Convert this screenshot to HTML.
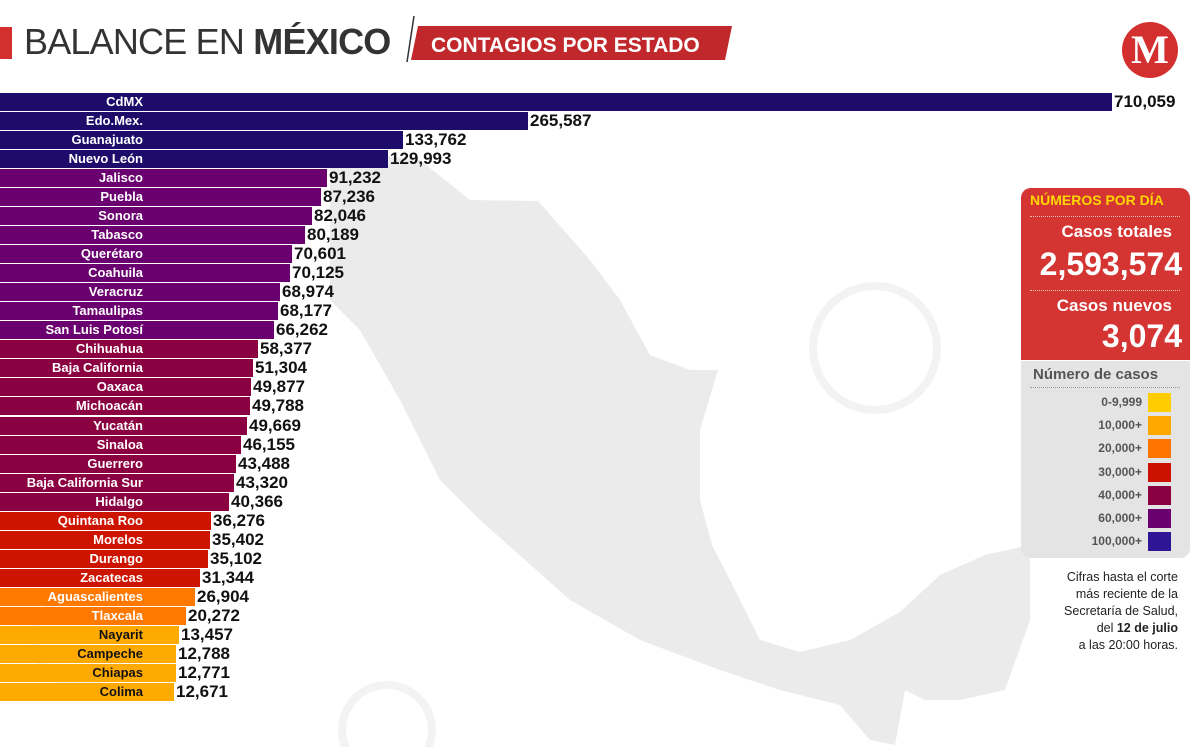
<!DOCTYPE html>
<html><head><meta charset="utf-8"><style>
body{margin:0;width:1200px;height:747px;background:#fff;position:relative;overflow:hidden;font-family:"Liberation Sans",sans-serif}
.row{position:absolute;left:0;height:18px}
.bar{position:absolute;left:0;top:0;height:18px}
.lab{position:absolute;right:0;width:143px;left:0;text-align:right;color:#fff;font-weight:bold;font-size:13px;line-height:18px}
.val{position:absolute;top:-1px;font-weight:bold;font-size:17px;line-height:20px;color:#111}
.leg{position:absolute;right:20px;font-weight:bold;font-size:12px;color:#555;text-align:right}
.sw{position:absolute;left:1148px;width:23px;height:19px}
</style></head><body>
<svg width="1200" height="747" style="position:absolute;left:0;top:0">
<polygon fill="#ebebeb" points="330,150 420,160 470,200 538,201 590,260 620,300 650,355 690,370 718,370 700,430 700,500 712,545 735,590 760,640 800,652 850,640 900,612 940,575 985,555 1030,545 1030,620 1005,690 960,700 925,700 905,690 895,745 870,740 840,705 780,690 720,670 640,640 570,600 480,520 440,480 400,400 360,330 330,300"/>
<g fill="none" stroke="#f3f3f3" stroke-width="8"><circle cx="875" cy="348" r="62"/><circle cx="387" cy="730" r="45"/><circle cx="80" cy="640" r="45"/></g>
</svg>
<div style="position:absolute;left:0;top:27px;width:12px;height:32px;background:#d32f2f"></div>
<div style="position:absolute;left:24px;top:21px;font-size:36px;color:#333;letter-spacing:-0.8px">BALANCE EN <b>MÉXICO</b></div>
<svg width="340" height="50" style="position:absolute;left:405px;top:14px"><line x1="9" y1="2" x2="2" y2="48" stroke="#333" stroke-width="1.5"/><polygon points="13,12 327,12 320,46 6,46" fill="#c0282b"/><text x="26" y="38" fill="#fff" font-weight="bold" font-size="21" font-family="Liberation Sans">CONTAGIOS POR ESTADO</text></svg>
<div style="position:absolute;left:1122px;top:22px;width:56px;height:56px;border-radius:50%;background:#d32f2f;color:#fff;font:bold 40px 'Liberation Serif',serif;text-align:center;line-height:56px">M</div>
<div id="bars"></div>
<div style="position:absolute;left:1021px;top:188px;width:169px;height:172px;background:#d43533;border-radius:10px 10px 0 0"></div>
<div style="position:absolute;left:1030px;top:192px;color:#ffd700;font-weight:bold;font-size:14px">NÚMEROS POR DÍA</div>
<div style="position:absolute;left:1030px;top:216px;width:150px;border-top:1px dotted #fbb"></div>
<div style="position:absolute;right:28px;top:222px;color:#fff;font-weight:bold;font-size:17px">Casos totales</div>
<div style="position:absolute;right:18px;top:246px;color:#fff;font-weight:bold;font-size:32px">2,593,574</div>
<div style="position:absolute;left:1030px;top:290px;width:150px;border-top:1px dotted #fbb"></div>
<div style="position:absolute;right:28px;top:296px;color:#fff;font-weight:bold;font-size:17px">Casos nuevos</div>
<div style="position:absolute;right:18px;top:318px;color:#fff;font-weight:bold;font-size:32px">3,074</div>
<div style="position:absolute;left:1021px;top:361px;width:169px;height:197px;background:#e4e4e4;border-radius:0 0 10px 10px"></div>
<div style="position:absolute;left:1033px;top:366px;color:#555;font-weight:bold;font-size:15px">Número de casos</div>
<div style="position:absolute;left:1030px;top:387px;width:150px;border-top:1px dotted #999"></div>
<div id="leg"></div>
<div style="position:absolute;right:22px;top:569px;width:160px;text-align:right;font-size:12.5px;line-height:17px;color:#222">Cifras hasta el corte<br>más reciente de la<br>Secretaría de Salud,<br>del <b>12 de julio</b><br>a las 20:00 horas.</div>
<script>
var d=[["CdMX","710,059",1112,0],["Edo.Mex.","265,587",528,0],["Guanajuato","133,762",403,0],["Nuevo León","129,993",388,0],["Jalisco","91,232",327,1],["Puebla","87,236",321,1],["Sonora","82,046",312,1],["Tabasco","80,189",305,1],["Querétaro","70,601",292,1],["Coahuila","70,125",290,1],["Veracruz","68,974",280,1],["Tamaulipas","68,177",278,1],["San Luis Potosí","66,262",274,1],["Chihuahua","58,377",258,2],["Baja California","51,304",253,2],["Oaxaca","49,877",251,2],["Michoacán","49,788",250,2],["Yucatán","49,669",247,2],["Sinaloa","46,155",241,2],["Guerrero","43,488",236,2],["Baja California Sur","43,320",234,2],["Hidalgo","40,366",229,2],["Quintana Roo","36,276",211,3],["Morelos","35,402",210,3],["Durango","35,102",208,3],["Zacatecas","31,344",200,3],["Aguascalientes","26,904",195,4],["Tlaxcala","20,272",186,4],["Nayarit","13,457",179,5],["Campeche","12,788",176,5],["Chiapas","12,771",176,5],["Colima","12,671",174,5]];
var c=["#1e0c6b","#6a006f","#8a0040","#cc1400","#ff7800","#ffaa00"];
var h="";d.forEach(function(r,i){var y=93+i*19.03;h+='<div class="row" style="top:'+y+'px"><div class="bar" style="width:'+r[2]+'px;background:'+c[r[3]]+'"></div><div class="lab" style="width:143px;'+(r[3]==5?'color:#111':'')+'">'+r[0]+'</div><div class="val" style="left:'+(r[2]+2)+'px">'+r[1]+'</div></div>';});
document.getElementById("bars").innerHTML=h;
var l=[["0-9,999","#ffcc00"],["10,000+","#ffa800"],["20,000+","#ff7300"],["30,000+","#cc1100"],["40,000+","#8a0040"],["60,000+","#6a006f"],["100,000+","#2d1595"]];
var g="";l.forEach(function(r,i){var y=393+i*23.2;g+='<div class="leg" style="top:'+(y+2)+'px;right:58px">'+r[0]+'</div><div class="sw" style="top:'+y+'px;background:'+r[1]+'"></div>';});
document.getElementById("leg").innerHTML=g;
</script>
</body></html>
